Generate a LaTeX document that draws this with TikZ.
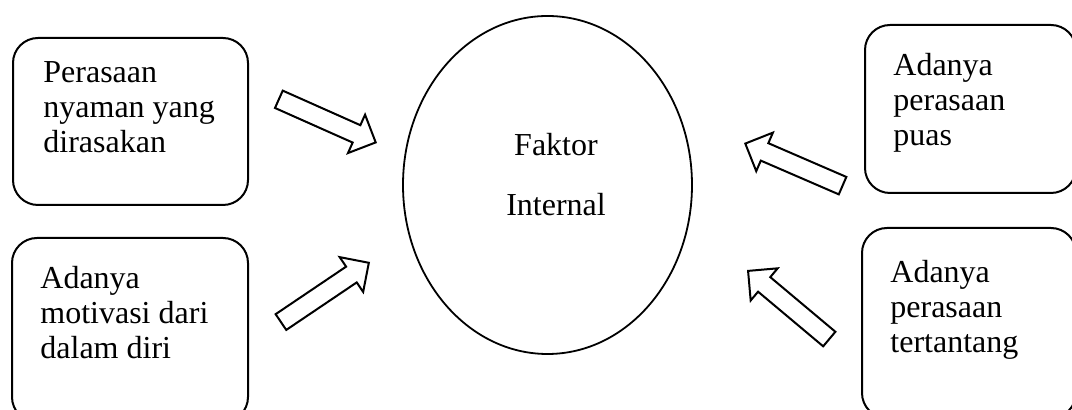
\documentclass[tikz,border=0pt]{standalone}
\usepackage{fontspec}
\setmainfont{Liberation Serif}
\usetikzlibrary{shapes.geometric,shapes.arrows}

\begin{document}
\begin{tikzpicture}[x=0.5pt, y=-0.5pt,
  box/.style={draw, line width=1pt, rounded corners=12.5pt, inner sep=0pt},
  txt/.style={align=left, anchor=west, inner sep=0pt,
              font=\fontsize{16}{17.5}\selectfont},
  blockarr/.style={single arrow, draw, line width=1pt, minimum height=53pt,
                   inner xsep=0pt, inner ysep=4.25pt,
                   single arrow head extend=5.75pt, anchor=tip}]
  \clip (0,0) rectangle (1072,410);
  % boxes
  \node[box, minimum width=117.5pt, minimum height=83.5pt] (b1) at (130.5,121.5) {};
  \node[box, minimum width=118pt, minimum height=92pt] (b2) at (130,330) {};
  \node[box, minimum width=105.5pt, minimum height=84pt] (b3) at (970.5,109) {};
  \node[box, minimum width=107pt, minimum height=95pt] (b4) at (969,323) {};
  \node[txt] (t1) at (43,107.5) {Perasaan\\nyaman yang\\dirasakan};
  \node[txt] (t2) at (40,312.5) {Adanya\\motivasi dari\\dalam diri};
  \node[txt] (t3) at (893,102.5) {Adanya\\perasaan\\puas};
  \node[txt] (t4) at (890,310) {Adanya\\perasaan\\tertantang};
  % centre
  \node[draw, ellipse, line width=0.9pt, inner sep=0pt,
        minimum width=144.5pt, minimum height=169pt] (fi) at (547.5,185) {};
  \node[txt, align=center, anchor=center] (fit) at (556,174.5) {Faktor\\[12.5pt]Internal};
  % arrows
  \node[blockarr, rotate=-24] (a1) at (377,143) {};
  \node[blockarr, rotate=34] (a2) at (370,262) {};
  \node[blockarr, rotate=156.6] (a3) at (744,143) {};
  \node[blockarr, rotate=140] (a4) at (747,270) {};
\end{tikzpicture}
\end{document}
